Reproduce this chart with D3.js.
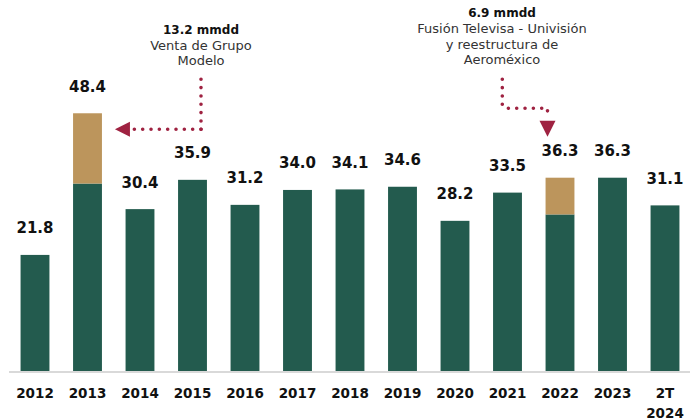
<!DOCTYPE html>
<html>
<head>
<meta charset="utf-8">
<script src="https://cdn.jsdelivr.net/npm/d3@7"></script>
<style>
  body { margin: 0; background: #fff; }
  svg { display: block; }
  .value { font-family: "DejaVu Sans", sans-serif; font-weight: bold; font-size: 15px; fill: #111; }
  .year { font-family: "DejaVu Sans", sans-serif; font-weight: bold; font-size: 13.5px; fill: #111; }
  .note-bold { font-family: "DejaVu Sans", sans-serif; font-weight: bold; font-size: 12px; fill: #111; }
  .note { font-family: "DejaVu Sans", sans-serif; font-size: 13px; fill: #333; }
</style>
</head>
<body>
<svg id="chart" width="694" height="420"></svg>
<script>
// data
const years = ['2012','2013','2014','2015','2016','2017','2018','2019','2020','2021','2022','2023','2T 2024'];
const baseValues = [21.8, 35.2, 30.4, 35.9, 31.2, 34.0, 34.1, 34.6, 28.2, 33.5, 29.4, 36.3, 31.1];
const extraValues = [0, 13.2, 0, 0, 0, 0, 0, 0, 0, 0, 6.9, 0, 0];
const totals = [21.8, 48.4, 30.4, 35.9, 31.2, 34.0, 34.1, 34.6, 28.2, 33.5, 36.3, 36.3, 31.1];
const noteModelo = ['13.2 mmdd', 'Venta de Grupo', 'Modelo'];
const noteTelevisa = ['6.9 mmdd', 'Fusión Televisa - Univisión', 'y reestructura de', 'Aeroméxico'];

const green = '#235B4E';
const gold = '#BC955C';
const guinda = '#9F2241';

const svg = d3.select('#chart');
const baseline = 371;

const xScale = d3.scaleBand()
    .domain(years)
    .range([8.75, 691.25])
    .paddingInner(0.45)
    .paddingOuter(0.225);
const yScale = d3.scaleLinear()
    .domain([0, 50])
    .range([baseline, baseline - 266.25]);

const data = years.map((y, i) => ({ year: y, base: baseValues[i], extra: extraValues[i], total: totals[i] }));

const g = svg.append('g');

// green part
g.selectAll('rect.base')
    .data(data)
    .enter()
    .append('rect')
    .attr('class', 'base')
    .attr('x', d => xScale(d.year))
    .attr('width', xScale.bandwidth())
    .attr('y', d => yScale(d.base))
    .attr('height', d => baseline - yScale(d.base))
    .attr('fill', green);

// gold part (one-off items)
g.selectAll('rect.extra')
    .data(data.filter(d => d.extra > 0))
    .enter()
    .append('rect')
    .attr('class', 'extra')
    .attr('x', d => xScale(d.year))
    .attr('width', xScale.bandwidth())
    .attr('y', d => yScale(d.base + d.extra))
    .attr('height', d => yScale(d.base) - yScale(d.base + d.extra))
    .attr('fill', gold);

// value labels
g.selectAll('text.value')
    .data(data)
    .enter()
    .append('text')
    .attr('class', 'value')
    .attr('text-anchor', 'middle')
    .attr('x', d => xScale(d.year) + xScale.bandwidth() / 2)
    .attr('y', d => yScale(d.total) - 21.5)
    .text(d => d.total.toFixed(1));

// axis line
svg.append('line')
    .attr('x1', 9).attr('x2', 690)
    .attr('y1', baseline + 1).attr('y2', baseline + 1)
    .attr('stroke', '#d9d9d9')
    .attr('stroke-width', 2);

// year labels (2T 2024 on two lines)
const yearLabels = svg.append('g');
years.forEach(y => {
    const t = yearLabels.append('text')
        .attr('class', 'year')
        .attr('text-anchor', 'middle')
        .attr('x', xScale(y) + xScale.bandwidth() / 2)
        .attr('y', 398);
    y.split(' ').forEach((part, i) => {
        t.append('tspan')
            .attr('x', xScale(y) + xScale.bandwidth() / 2)
            .attr('dy', i === 0 ? 0 : 20)
            .text(part);
    });
});

// annotations
function note(lines, cx, y0) {
    lines.forEach((l, i) => {
        svg.append('text')
            .attr('class', i === 0 ? 'note-bold' : 'note')
            .attr('text-anchor', 'middle')
            .attr('x', cx)
            .attr('y', y0 + i * 15.7)
            .text(l);
    });
}
function dotted(d) {
    svg.append('path')
        .attr('d', d)
        .attr('fill', 'none')
        .attr('stroke', guinda)
        .attr('stroke-width', 3.6)
        .attr('stroke-linecap', 'round')
        .attr('stroke-dasharray', '0 8.33');
}

// Grupo Modelo -> 2013
const b13 = xScale('2013') + xScale.bandwidth();
const yArrow1 = yScale(48.4) + 16;
note(noteModelo, 201, 34);
dotted(`M201,${yArrow1} L201,71`);
dotted(`M201,${yArrow1} L134,${yArrow1}`);
svg.append('path')
    .attr('d', `M${b13 + 13},${yArrow1} L${b13 + 28},${yArrow1 - 7.5} L${b13 + 28},${yArrow1 + 7.5} Z`)
    .attr('fill', guinda);

// Televisa / Aeromexico -> 2022
const c22 = xScale('2022') + xScale.bandwidth() / 2 - 12.5;
const tip2 = yScale(36.3) - 41;
note(noteTelevisa, 502, 17.3);
dotted(`M502.3,79.3 L502.3,104.3 Q502.3,108.3 506.7,108.3 L${c22},108.3 L${c22},118.3`);
svg.append('path')
    .attr('d', `M${c22 - 8},${tip2 - 16} L${c22 + 8},${tip2 - 16} L${c22},${tip2} Z`)
    .attr('fill', guinda);
</script>
</body>
</html>
